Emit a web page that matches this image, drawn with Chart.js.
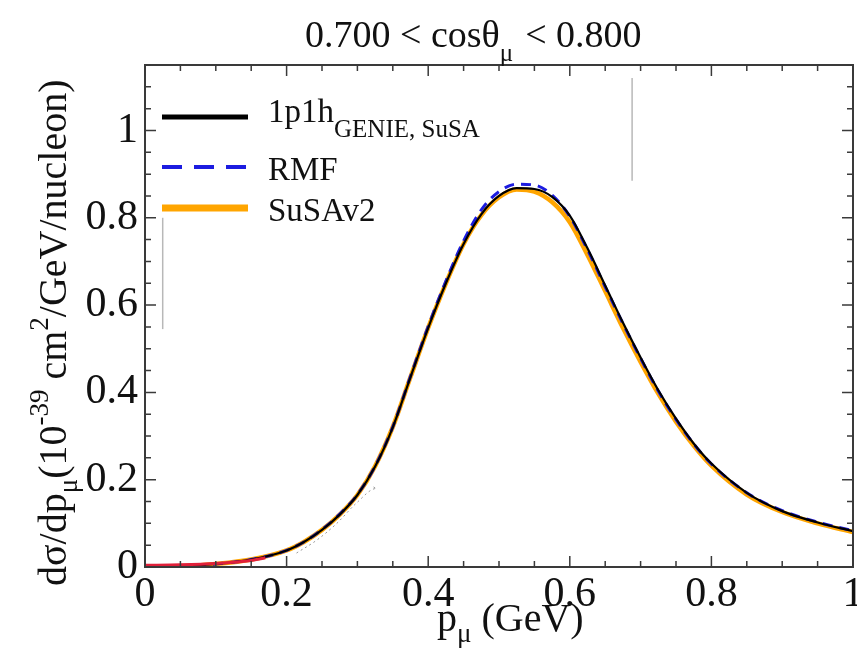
<!DOCTYPE html>
<html>
<head>
<meta charset="utf-8">
<script src="https://cdn.jsdelivr.net/npm/chart.js@4.4.1/dist/chart.umd.min.js"></script>
<style>
  html, body { margin: 0; padding: 0; background: #ffffff; }
  #wrap { width: 857px; height: 654px; position: relative; }
</style>
</head>
<body>
<div id="wrap"><canvas id="chart" width="857" height="654"></canvas></div>
<script>
// muon momentum grid (GeV)
const pMu = [0, 0.05, 0.1, 0.15, 0.2, 0.225, 0.25, 0.275, 0.3, 0.325, 0.35, 0.375, 0.4, 0.425, 0.45, 0.475,
  0.5, 0.525, 0.55, 0.575, 0.6, 0.625, 0.65, 0.675, 0.7, 0.725, 0.75, 0.775, 0.8, 0.85, 0.9, 0.95, 1.0];

// dsigma/dp (1e-39 cm^2/GeV/nucleon)
const genieSusa = [0, 0.002, 0.007, 0.017, 0.038, 0.058, 0.085, 0.12, 0.165, 0.23, 0.32, 0.435, 0.548, 0.65, 0.74, 0.808,
  0.85, 0.868, 0.866, 0.848, 0.805, 0.73, 0.645, 0.56, 0.48, 0.405, 0.34, 0.283, 0.237, 0.17, 0.128, 0.102, 0.082];
const rmf = [0, 0.002, 0.007, 0.017, 0.038, 0.058, 0.086, 0.121, 0.166, 0.231, 0.321, 0.437, 0.551, 0.655, 0.747, 0.818,
  0.86, 0.877, 0.875, 0.852, 0.803, 0.727, 0.642, 0.558, 0.478, 0.403, 0.338, 0.282, 0.236, 0.17, 0.129, 0.103, 0.083];
const susaV2 = [0, 0.002, 0.007, 0.017, 0.038, 0.058, 0.085, 0.12, 0.165, 0.231, 0.321, 0.435, 0.548, 0.65, 0.74, 0.806,
  0.847, 0.865, 0.86, 0.836, 0.79, 0.715, 0.632, 0.548, 0.47, 0.397, 0.333, 0.278, 0.232, 0.166, 0.126, 0.1, 0.08];

// partial curves that show through near threshold
const redP = [0, 0.05, 0.1, 0.15, 0.17];
const redV = [0.004, 0.005, 0.008, 0.015, 0.021];
const greyP = [0.214, 0.243, 0.271, 0.299, 0.327, 0.322];
const greyV = [0.032, 0.062, 0.1, 0.147, 0.18, 0.184];
// stray vertical marks
const markA = { p: [0.688, 0.688], v: [1.12, 0.885] };
const markB = { p: [0.025, 0.025], v: [0.8, 0.545] };

const xTicks = [0, 0.2, 0.4, 0.6, 0.8, 1];
const yTicks = [0, 0.2, 0.4, 0.6, 0.8, 1];
const minorStep = 0.05;

const FONT = '"Liberation Serif", "Times New Roman", serif';
const pts = (xs, ys) => xs.map((x, i) => ({ x: x, y: ys[i] }));

function drawRuns(ctx, runs, x, y) {
  let cx = x;
  runs.forEach(r => {
    ctx.font = r.size + 'px ' + FONT;
    ctx.fillText(r.t, cx, y + (r.dy || 0));
    cx += ctx.measureText(r.t).width + (r.gap || 0);
  });
  return cx;
}

// frame with inward ticks on all four sides, plus texts
const framePlugin = {
  id: 'frame',
  afterDatasetsDraw(chart) {
    const { ctx, chartArea: a, scales: { x, y } } = chart;
    ctx.save();
    ctx.strokeStyle = '#3a3a3a';
    ctx.lineWidth = 2;
    ctx.strokeRect(a.left, a.top, a.right - a.left, a.bottom - a.top);
    ctx.lineWidth = 1.5;
    ctx.beginPath();
    for (let i = 0; i * minorStep <= x.max + 1e-9; i++) {
      const px = x.getPixelForValue(i * minorStep);
      const len = i % 4 === 0 ? 11 : 6;
      ctx.moveTo(px, a.bottom); ctx.lineTo(px, a.bottom - len);
      ctx.moveTo(px, a.top); ctx.lineTo(px, a.top + len);
    }
    for (let i = 0; i * minorStep <= y.max + 1e-9; i++) {
      const py = y.getPixelForValue(i * minorStep);
      const len = i % 4 === 0 ? 11 : 6;
      ctx.moveTo(a.left, py); ctx.lineTo(a.left + len, py);
      ctx.moveTo(a.right, py); ctx.lineTo(a.right - len, py);
    }
    ctx.stroke();
    ctx.restore();
  },
  afterDraw(chart) {
    const ctx = chart.ctx;
    ctx.save();
    ctx.fillStyle = '#111';
    ctx.textBaseline = 'alphabetic';
    // title
    drawRuns(ctx, [
      { t: '0.700 < cosθ', size: 38 },
      { t: 'μ', size: 25, dy: 14, gap: 12 },
      { t: '< 0.800', size: 38 }
    ], 305, 47);
    // x axis title
    drawRuns(ctx, [
      { t: 'p', size: 40 },
      { t: 'μ', size: 27, dy: 11, gap: 10 },
      { t: '(GeV)', size: 40 }
    ], 437, 631);
    // y axis title
    ctx.save();
    ctx.translate(66, 586);
    ctx.rotate(-Math.PI / 2);
    drawRuns(ctx, [
      { t: 'dσ/dp', size: 40 },
      { t: 'μ', size: 27, dy: 11 },
      { t: '(10', size: 40 },
      { t: '-39', size: 27, dy: -18 },
      { t: ' cm', size: 40 },
      { t: '2', size: 27, dy: -18 },
      { t: '/GeV/nucleon)', size: 40 }
    ], 0, 0);
    ctx.restore();
    // legend
    const rows = [
      { y: 117, tb: 122, color: '#000000', w: 5, dash: [], runs: [{ t: '1p1h', size: 33 }, { t: 'GENIE, SuSA', size: 25, dy: 15 }] },
      { y: 167, tb: 180, color: '#1c1ce0', w: 4, dash: [20, 12], runs: [{ t: 'RMF', size: 33 }] },
      { y: 208, tb: 221, color: '#ffa500', w: 7, dash: [], runs: [{ t: 'SuSAv2', size: 33 }] }
    ];
    rows.forEach(r => {
      ctx.save();
      ctx.strokeStyle = r.color;
      ctx.lineWidth = r.w;
      ctx.setLineDash(r.dash);
      ctx.beginPath();
      ctx.moveTo(162, r.y); ctx.lineTo(248, r.y);
      ctx.stroke();
      ctx.restore();
      drawRuns(ctx, r.runs, 268, r.tb);
    });
    ctx.restore();
  }
};

const thin = { pointRadius: 0, fill: false, cubicInterpolationMode: 'monotone' };

// lower "order" is painted on top
new Chart(document.getElementById('chart'), {
  type: 'line',
  data: {
    datasets: [
      { ...thin, order: 5, label: 'mark a', data: pts(markA.p, markA.v), borderColor: '#b8b8b8', borderWidth: 1.5 },
      { ...thin, order: 5, label: 'mark b', data: pts(markB.p, markB.v), borderColor: '#b8b8b8', borderWidth: 1.5 },
      { ...thin, order: 5, label: 'grey', data: pts(greyP, greyV), borderColor: '#9a9a9a', borderWidth: 1, borderDash: [2, 3] },
      { ...thin, order: 4, label: 'SuSAv2', data: pts(pMu, susaV2), borderColor: '#ffa500', borderWidth: 4.5 },
      { ...thin, order: 3, label: 'RMF', data: pts(pMu, rmf), borderColor: '#1c1ce0', borderWidth: 3, borderDash: [10, 7] },
      { ...thin, order: 2, label: '1p1h GENIE, SuSA', data: pts(pMu, genieSusa), borderColor: '#000000', borderWidth: 2.2 },
      { ...thin, order: 1, label: 'red', data: pts(redP, redV), borderColor: '#e0203a', borderWidth: 3 }
    ]
  },
  options: {
    responsive: false,
    animation: false,
    layout: { padding: { top: 65, right: 4, left: 0, bottom: 0 } },
    plugins: { legend: { display: false }, tooltip: { enabled: false } },
    scales: {
      x: {
        type: 'linear', min: 0, max: 1,
        afterBuildTicks: s => { s.ticks = xTicks.map(v => ({ value: v })); },
        afterFit: s => { s.height = 87; s.paddingLeft = 0; s.paddingRight = 0; },
        grid: { display: false, drawTicks: false },
        border: { display: false },
        ticks: { padding: 3, color: '#111', font: { family: FONT, size: 42 }, maxRotation: 0, autoSkip: false,
          callback: v => String(+v.toFixed(1)) }
      },
      y: {
        type: 'linear', min: 0, max: 1.15,
        afterBuildTicks: s => { s.ticks = yTicks.map(v => ({ value: v })); },
        afterFit: s => { s.width = 145; s.paddingTop = 0; s.paddingBottom = 0; },
        grid: { display: false, drawTicks: false },
        border: { display: false },
        ticks: { padding: 7, color: '#111', font: { family: FONT, size: 42 }, autoSkip: false,
          callback: v => String(+v.toFixed(1)) }
      }
    }
  },
  plugins: [framePlugin]
});
</script>
</body>
</html>
